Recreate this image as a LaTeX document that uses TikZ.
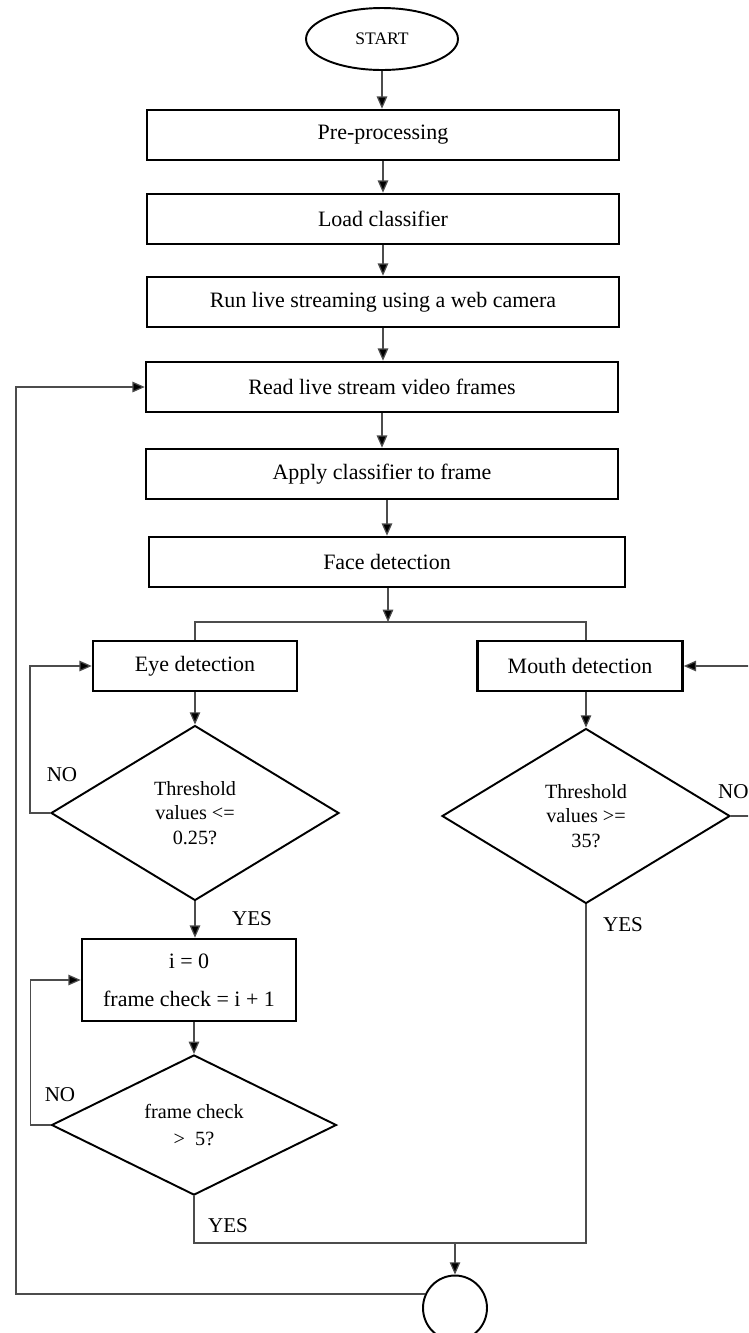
\documentclass[tikz,border=0pt]{standalone}
\usepackage{fontspec}
\setmainfont{Liberation Serif}
\usetikzlibrary{shapes.geometric,arrows.meta}

\begin{document}
\begin{tikzpicture}[x=0.02cm,y=-0.02cm,
  stepbox/.style={draw,line width=1.5pt,minimum width=9.44cm,minimum height=1cm,
    inner sep=0pt,font=\fontsize{12.5}{15}\selectfont},
  smallbox/.style={draw,line width=1.5pt,minimum width=4.1cm,minimum height=1cm,
    inner sep=0pt,font=\fontsize{12.5}{15}\selectfont},
  test/.style={draw,diamond,line width=1.1pt,minimum width=5.76cm,minimum height=3.5cm,
    inner sep=0pt,align=center,font=\fontsize{11.5}{14}\selectfont},
  term/.style={draw,ellipse,line width=1.1pt,inner sep=0pt},
  lbl/.style={font=\fontsize{12}{14}\selectfont},
  conn/.style={draw=black!70,line width=0.7pt},
  arr/.style={conn,-{Triangle[length=7pt,width=6pt,fill=black]}}]
  \clip (0,0) rectangle (748,1333);

  \node[term,minimum width=3.04cm,minimum height=1.24cm,font=\fontsize{10}{12}\selectfont]
    (start) at (382,39) {START};
  \node[stepbox] (pre) at (383,135) {Pre-processing};
  \node[stepbox] (load) at (383,219) {Load classifier};
  \node[stepbox] (run) at (383,302) {Run live streaming using a web camera};
  \node[stepbox] (read) at (382,387) {Read live stream video frames};
  \node[stepbox] (apply) at (382,474) {Apply classifier to frame};
  \node[stepbox,minimum width=9.52cm] (face) at (387,562) {Face detection};

  \node[smallbox,minimum width=4.08cm] (eye) at (195,666) {Eye detection};
  \node[smallbox] (mouth) at (580,666) {Mouth detection};

  \node[test] (eyetest) at (195,813) {Threshold\\values <=\\0.25?};
  \node[test] (mouthtest) at (586,816) {Threshold\\values >=\\35?};

  \node[draw,line width=1.5pt,minimum width=4.28cm,minimum height=1.64cm,align=center,
    font=\fontsize{12.5}{21.5}\selectfont] (count) at (189,980) {i = 0\\frame check = i + 1};
  \node[test,minimum width=5.7cm,minimum height=2.72cm,font=\fontsize{11.5}{15}\selectfont]
    (frametest) at (194,1125) {frame check\\>~~5?};

  \node[term,minimum width=1.28cm,minimum height=1.3cm] (stop) at (455,1308) {};

  % labels
  \node[lbl] (no1) at (62,775) {NO};
  \node[lbl] (yes1) at (252,919) {YES};
  \node[lbl,anchor=west,inner sep=1pt] (no2) at (716,792) {NO};
  \node[lbl] (yes2) at (623,925) {YES};
  \node[lbl] (no3) at (60,1095) {NO};
  \node[lbl] (yes3) at (228,1226) {YES};

  \coordinate (fork) at (388,622);
  \coordinate (join) at (455,1243);
  \coordinate (back) at (16,0);

  % main chain
  \draw[arr] (start) -- (start |- pre.north);
  \draw[arr] (pre) -- (load);
  \draw[arr] (load) -- (load |- run.north);
  \draw[arr] (run.south) -- (run.south |- read.north);
  \draw[arr] (read) -- (apply);
  \draw[arr] (face.north |- apply.south) -- (face.north);
  \draw[arr] (fork |- face.south) -- (fork);
  \draw[conn] (eye.north) |- (fork) -| (mouthtest.north |- mouth.north);

  % eye branch
  \draw[arr] (eye) -- (eyetest);
  \draw[arr] (eyetest.west) -- ++(-20,0) |- (eye.west);
  \draw[arr] (eyetest.south) -- (eyetest.south |- count.north);
  \draw[arr] (frametest.north |- count.south) -- (frametest.north);
  \draw[arr] (frametest.west) -- ++(-20,0) |- (count.west);
  \draw[conn] (frametest.south) |- (join);

  % mouth branch
  \draw[arr] (mouthtest.north |- mouth.south) -- (mouthtest.north);
  \draw[arr] (mouthtest.east) -- ++(40,0) |- (mouth.east);
  \draw[conn] (mouthtest.south) |- (join);

  % end and loop back
  \draw[arr] (join) -- (stop);
  \draw[arr] (stop.155) -- (stop.155 -| back) |- (read.west);
\end{tikzpicture}
\end{document}
